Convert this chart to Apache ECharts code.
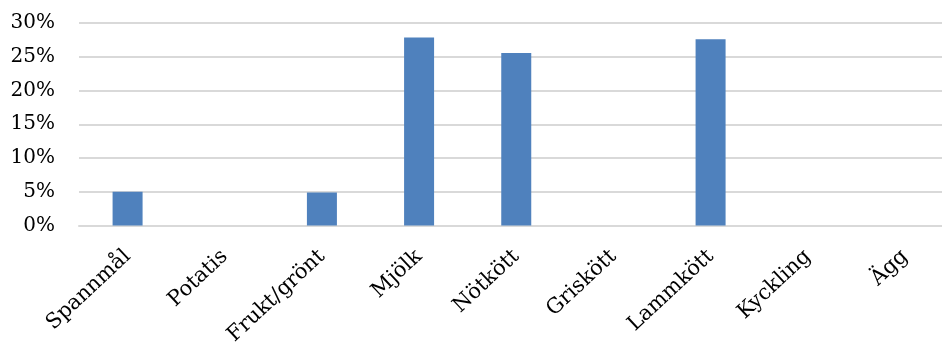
<!DOCTYPE html>
<html><head><meta charset="utf-8">
<script src="https://cdn.jsdelivr.net/npm/echarts@6/dist/echarts.min.js"></script>
<style>html,body{margin:0;padding:0;background:#fff;overflow:hidden}#c{width:942px;height:347px}</style>
</head><body><div id="c"></div>
<script>
const categories = ['Spannmål','Potatis','Frukt/grönt','Mjölk','Nötkött','Griskött','Lammkött','Kyckling','Ägg'];
const values = [5.0, 0, 4.9, 27.85, 25.55, 0, 27.6, 0, 0];
const yTicks = [0, 5, 10, 15, 20, 25, 30];

const chart = echarts.init(document.getElementById('c'), null, {renderer:'canvas'});
chart.setOption({
  animation:false,
  backgroundColor:'#fff',
  grid:{left:79, right:-11.5, top:23, bottom:121.5, containLabel:false, outerBoundsMode:'none'},
  xAxis:{
    type:'category', data:categories,
    axisLine:{show:true, lineStyle:{color:'#d9d9d9', width:2}},
    axisTick:{show:false},
    axisLabel:{rotate:43, margin:28, interval:0, color:'#000', fontFamily:'DejaVu Serif', fontSize:21}
  },
  yAxis:{
    type:'value', min:yTicks[0], max:yTicks[yTicks.length-1], interval:5,
    axisLine:{show:false}, axisTick:{show:false},
    splitLine:{lineStyle:{color:'#d9d9d9', width:2}},
    axisLabel:{margin:24, color:'#000', fontFamily:'DejaVu Serif', fontSize:20, formatter:v=>v+'%'}
  },
  series:[{
    type:'bar', data:values, barWidth:30,
    itemStyle:{color:'#4F81BD', borderWidth:0}
  }]
});
</script></body></html>
